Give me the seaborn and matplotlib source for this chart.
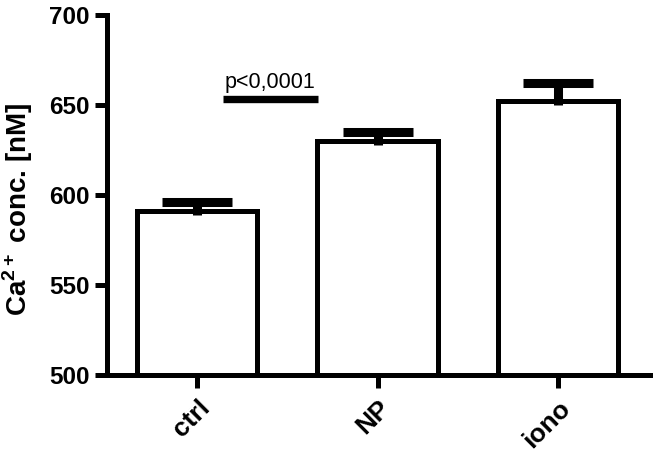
import matplotlib
matplotlib.use("Agg")
import matplotlib.pyplot as plt
import pandas as pd
import seaborn as sns

# values
groups = ["ctrl", "NP", "iono"]
means = [591, 630, 652]
sem = [5, 5, 10]

sig_text = "p<0,0001"
sig_y = 653.5
sig_x = (0.14, 0.667)

df = pd.DataFrame({"group": groups, "mean": means, "sem": sem})

sns.set_theme(style="ticks")
plt.rcParams["font.family"] = ["Liberation Sans", "DejaVu Sans"]
plt.rcParams["mathtext.fontset"] = "custom"
plt.rcParams["mathtext.rm"] = "Liberation Sans:bold"
plt.rcParams["mathtext.bf"] = "Liberation Sans:bold"
for key in ["text.color", "axes.labelcolor", "xtick.color", "ytick.color",
            "axes.edgecolor"]:
    plt.rcParams[key] = "black"

LW = 3.6

fig = plt.figure(figsize=(6.53, 4.62), dpi=100)
ax = fig.add_axes([0.164, 0.188, 0.834, 0.78])

sns.barplot(data=df, x="group", y="mean", ax=ax, color="white",
            edgecolor="black", linewidth=LW, width=0.667, errorbar=None,
            zorder=2)
# upper error only, lower cap hidden
_, caps, _ = ax.errorbar(range(len(groups)), df["mean"] - 2,
                         yerr=[[0] * len(groups), df["sem"] + 2], fmt="none",
                         ecolor="black", elinewidth=6.5, capsize=25,
                         capthick=6.5, zorder=3)
caps[0].set_visible(False)

# significance bar
ax.plot(sig_x, [sig_y, sig_y], color="black", lw=5.3,
        solid_capstyle="butt", zorder=3)
ax.text(sum(sig_x) / 2, sig_y + 3.0, sig_text, ha="center", va="bottom",
        fontsize=15.5)

ax.set_ylim(500, 700)
ax.set_xlim(-0.5, 2.52)
ax.set_yticks([500, 550, 600, 650, 700])
ax.set_xlabel("")
ax.set_ylabel(r"Ca$^{2+}$ conc. [nM]", fontsize=20, fontweight="bold")
ax.yaxis.set_label_coords(-0.132, 0.46)

sns.despine(ax=ax)
for side in ["left", "bottom"]:
    ax.spines[side].set_linewidth(LW)
ax.tick_params(axis="both", width=LW, length=9)
ax.tick_params(axis="y", pad=3.5, labelsize=17.5)
ax.tick_params(axis="x", pad=6, labelsize=19)
for lab in ax.get_yticklabels():
    lab.set_fontweight("bold")
for lab in ax.get_xticklabels():
    lab.set_fontweight("bold")
    lab.set_rotation(45)
    lab.set_ha("right")
    lab.set_rotation_mode("anchor")

fig.savefig("out.png", dpi=100, facecolor="white")
